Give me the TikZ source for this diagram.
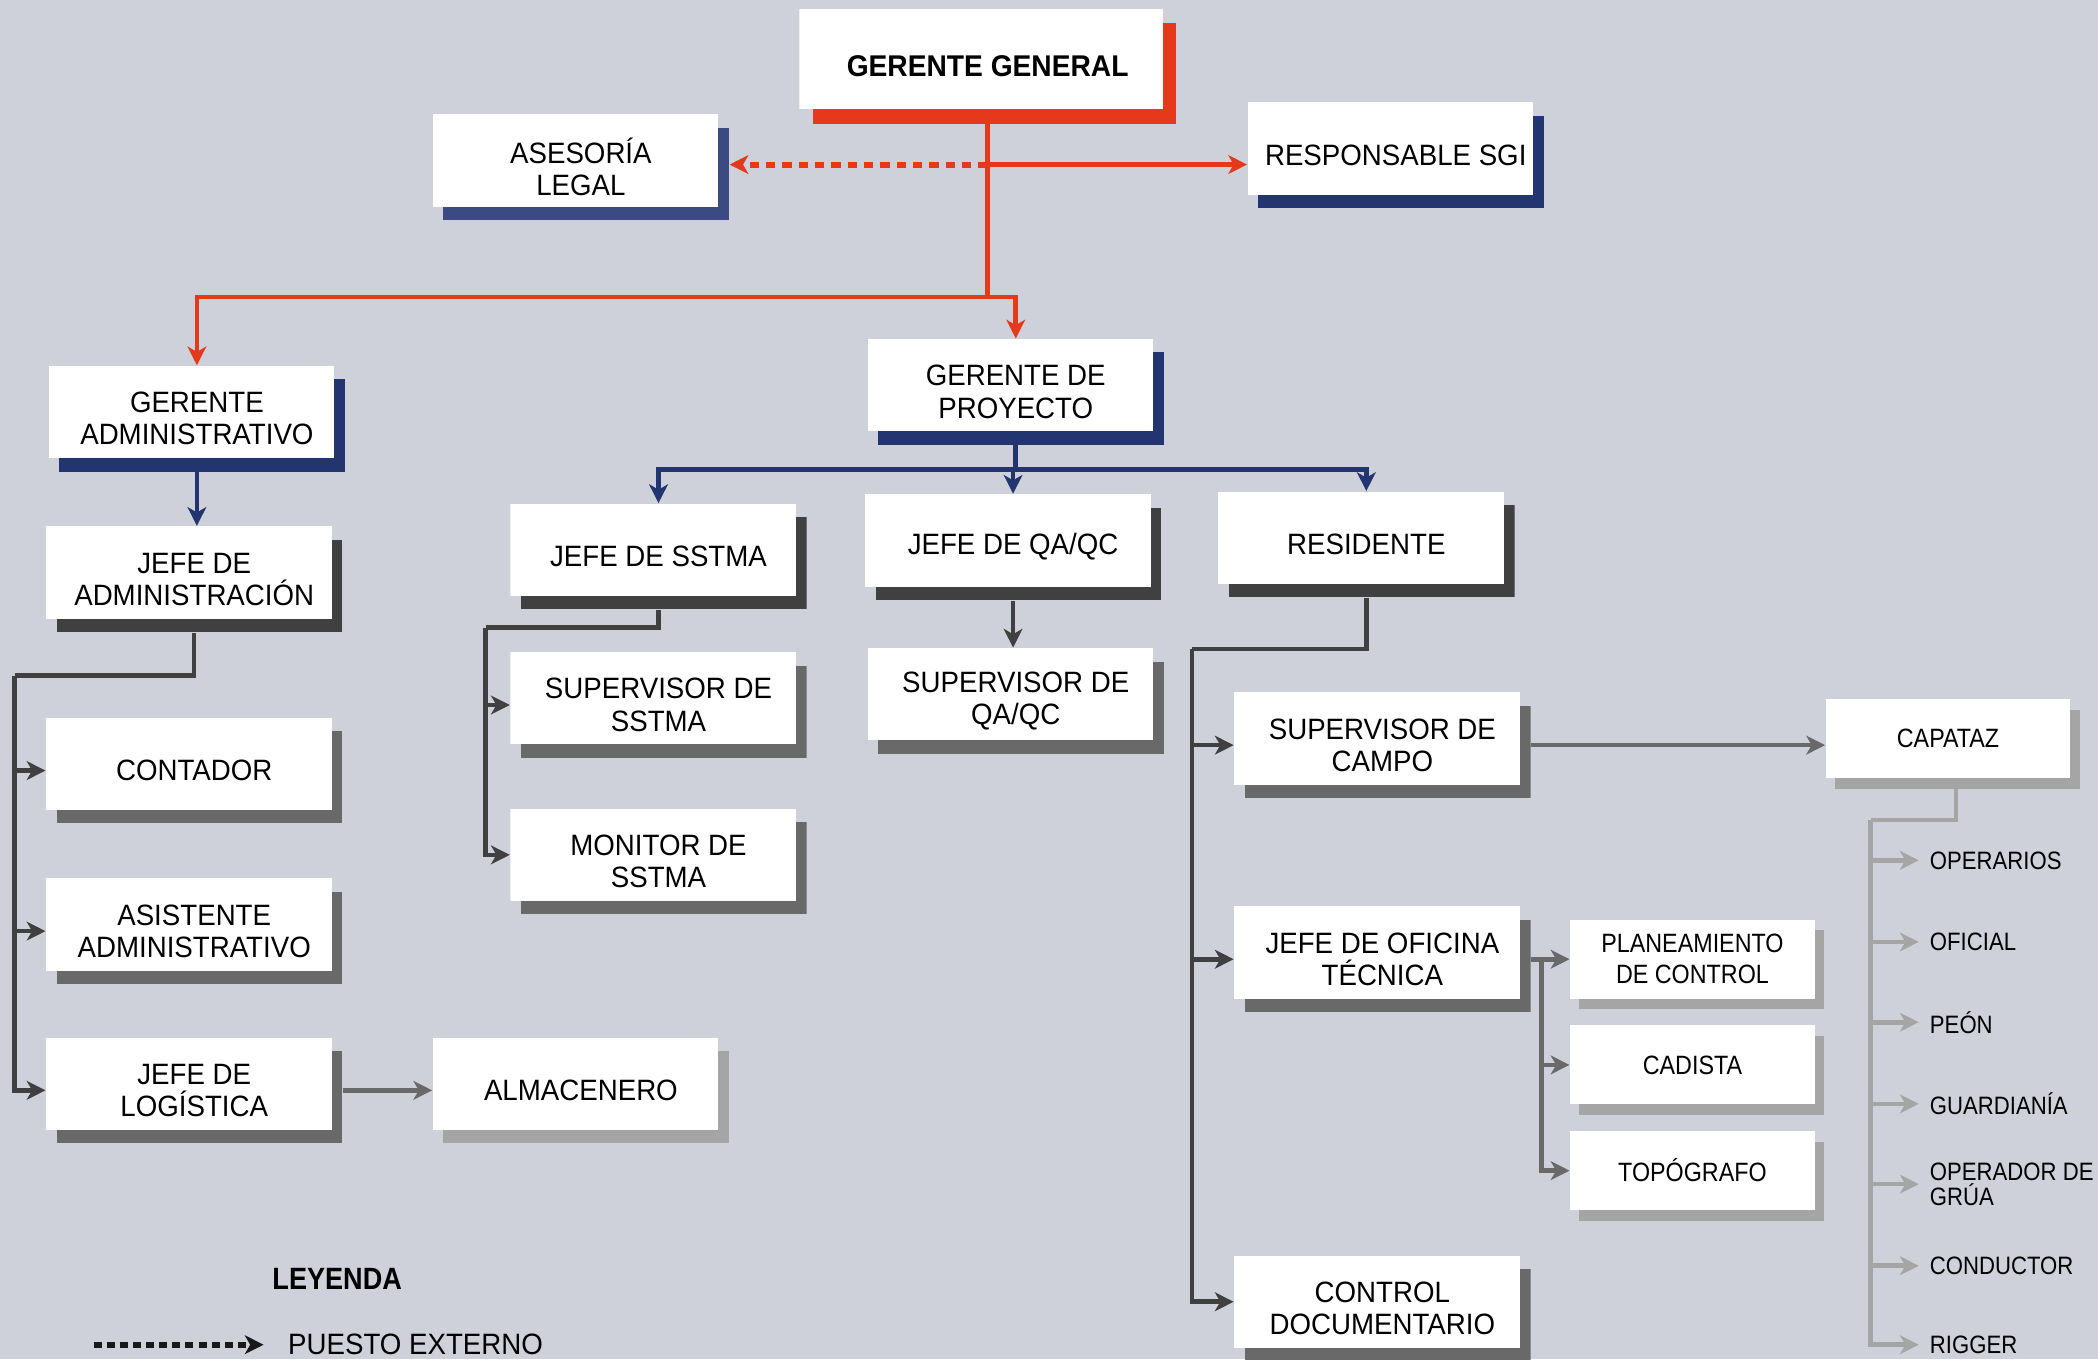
\documentclass[tikz,border=0pt]{standalone}
\usepackage{fontspec}
\setmainfont[FakeStretch=0.94]{Liberation Sans}
\newfontfamily\angosta[FakeStretch=0.88]{Liberation Sans}
\usetikzlibrary{arrows.meta,shadows,calc}

\definecolor{fondo}{RGB}{206,209,217}
\definecolor{rojo}{RGB}{228,57,27}
\definecolor{azul}{RGB}{35,53,112}
\definecolor{azulclaro}{RGB}{59,74,130}
\definecolor{gris1}{RGB}{64,64,64}
\definecolor{gris2}{RGB}{105,105,105}
\definecolor{gris3}{RGB}{165,165,165}
\definecolor{negro}{RGB}{25,25,25}

\tikzset{
	sombra x/.initial=4pt,
	sombra y/.initial=5pt,
	puesto/.style={minimum width=110.75pt, minimum height=39.5pt, inner sep=0pt,
		anchor=north west, align=center, font=\fontsize{11}{12.1}\selectfont,
		path picture={
			\fill[#1] ([xshift=\pgfkeysvalueof{/tikz/sombra x},yshift=-\pgfkeysvalueof{/tikz/sombra y}]path picture bounding box.north west)
				rectangle (path picture bounding box.south east);
			\fill[white] (path picture bounding box.north west)
				rectangle ([xshift=-\pgfkeysvalueof{/tikz/sombra x},yshift=\pgfkeysvalueof{/tikz/sombra y}]path picture bounding box.south east);
		}},
	jefe/.style={puesto=rojo, sombra x=5pt, sombra y=5.3pt, minimum width=140.75pt,
		minimum height=43pt, font=\bfseries\fontsize{11.2}{12}\selectfont},
	chico/.style={minimum width=91.5pt, minimum height=29.5pt, inner sep=0pt,
		anchor=north west, align=center, fill=white,
		font=\angosta\fontsize{9.9}{11.5}\selectfont,
		general shadow={fill=#1, shadow xshift=3.5pt, shadow yshift=-4pt}},
	item/.style={anchor=west, inner xsep=4pt, inner ysep=0pt, align=left,
		font=\angosta\fontsize{9.4}{9.5}\selectfont},
	linea/.style={line width=1.7pt},
	flecha/.style={-{Stealth[length=7pt,width=7pt,inset=2pt]}},
	externo/.style={line width=2.2pt, dash pattern=on 3.5pt off 2.6pt}
}

\begin{document}
\begin{tikzpicture}[x=0.5pt, y=-0.5pt]
	\fill[fondo] (0,0) rectangle (1568,1016);
	\useasboundingbox (0,0) rectangle (1568,1016);

	% puestos
	\node[jefe] (gg) at (597,6) {GERENTE GENERAL};
	\node[puesto=azulclaro] (ases) at (323,85) {ASESORÍA\\LEGAL};
	\node[puesto=azul] (sgi) at (932,76) {RESPONSABLE SGI};
	\node[puesto=azul] (gadm) at (36,273) {GERENTE\\ADMINISTRATIVO};
	\node[puesto=azul] (gproy) at (648,253) {GERENTE DE\\PROYECTO};
	\node[puesto=gris1] (jadm) at (34,393) {JEFE DE\\ADMINISTRACIÓN};
	\node[puesto=gris1] (jsstma) at (381,376) {JEFE DE SSTMA};
	\node[puesto=gris1] (jqa) at (646,369) {JEFE DE QA/QC};
	\node[puesto=gris1] (resid) at (910,367) {RESIDENTE};
	\node[puesto=gris2] (cont) at (34,536) {CONTADOR};
	\node[puesto=gris2] (asist) at (34,656) {ASISTENTE\\ADMINISTRATIVO};
	\node[puesto=gris2] (jlog) at (34,775) {JEFE DE\\LOGÍSTICA};
	\node[puesto=gris3] (almac) at (323,775) {ALMACENERO};
	\node[puesto=gris2] (supsstma) at (381,487) {SUPERVISOR DE\\SSTMA};
	\node[puesto=gris2] (monitor) at (381,604) {MONITOR DE\\SSTMA};
	\node[puesto=gris2] (supqa) at (648,484) {SUPERVISOR DE\\QA/QC};
	\node[puesto=gris2] (supcampo) at (922,517) {SUPERVISOR DE\\CAMPO};
	\node[puesto=gris2] (jofic) at (922,677) {JEFE DE OFICINA\\TÉCNICA};
	\node[puesto=gris2] (cdoc) at (922,938) {CONTROL\\DOCUMENTARIO};
	\node[chico=gris3] (planea) at (1173,687) {PLANEAMIENTO\\DE CONTROL};
	\node[chico=gris3] (cadista) at (1173,766) {CADISTA};
	\node[chico=gris3] (topog) at (1173,845) {TOPÓGRAFO};
	\node[chico=gris3] (capataz) at (1364,522) {CAPATAZ};

	\node[item] (operarios) at (1434,643) {OPERARIOS};
	\node[item] (oficial) at (1434,704) {OFICIAL};
	\node[item] (peon) at (1434,764) {PEÓN};
	\node[item] (guardiania) at (1434,825) {GUARDIANÍA};
	\node[item] (grua) at (1434,885) {OPERADOR DE\\GRÚA};
	\node[item] (conductor) at (1434,946) {CONDUCTOR};
	\node[item] (rigger) at (1434,1005) {RIGGER};

	% gerencia
	\coordinate (r0) at (gg.south |- 0,123);
	\coordinate (r1) at (gg.south |- 0,222);
	\draw[linea, rojo] (gg.south) -- (r1);
	\draw[linea, rojo, flecha] (r1) -| (gadm.north);
	\draw[linea, rojo, flecha] (r1) -| (gproy.north);
	\draw[linea, rojo, flecha] (r0) -- (r0 -| sgi.west);
	\draw[externo, rojo, flecha] (r0) -- (r0 -| ases.east);

	\draw[linea, azul, flecha] (gadm.south) -- (gadm.south |- jadm.north);
	\coordinate (a1) at (gproy.south |- 0,351);
	\draw[linea, azul] (gproy.south) -- (a1);
	\draw[linea, azul, flecha] (a1) -| (jsstma.north);
	\draw[linea, azul, flecha] (a1) -| (jqa.north);
	\draw[linea, azul, flecha] (a1) -| (resid.north);

	% administracion
	\coordinate (b1) at (11,505);
	\draw[linea, gris1] (jadm.south) |- (b1);
	\draw[linea, gris1, flecha] (b1) |- (jlog.west);
	\draw[linea, gris1, flecha] (b1 |- cont.west) -- (cont.west);
	\draw[linea, gris1, flecha] (b1 |- asist.west) -- (asist.west);
	\draw[linea, gris2, flecha] (jlog.east) -- (almac.west);

	% sstma y qa/qc
	\coordinate (b2) at (363,469);
	\draw[linea, gris1] (jsstma.south) |- (b2);
	\draw[linea, gris1, flecha] (b2) |- ([yshift=2.5pt]monitor.west);
	\draw[linea, gris1, flecha] (b2 |- supsstma.west) -- (supsstma.west);
	\draw[linea, gris1, flecha] (jqa.south) -- (supqa.north -| jqa.south);

	% residente
	\coordinate (b3) at (891,485);
	\draw[linea, gris1] (resid.south) |- (b3);
	\draw[linea, gris1, flecha] (b3) |- ([yshift=2.5pt]cdoc.west);
	\draw[linea, gris1, flecha] (b3 |- supcampo.west) -- (supcampo.west);
	\draw[linea, gris1, flecha] (b3 |- jofic.west) -- (jofic.west);

	\draw[linea, gris2, flecha] (supcampo.east) -- (supcampo.east -| capataz.west);
	\coordinate (b4) at (1152,716.5);
	\draw[linea, gris2, flecha] (jofic.east) -- (planea.west);
	\draw[linea, gris2, flecha] (b4) |- (topog.west);
	\draw[linea, gris2, flecha] (b4 |- cadista.west) -- (cadista.west);

	% capataz
	\coordinate (b5) at (1398,613);
	\draw[linea, gris3] ([xshift=3pt]capataz.south) |- (b5);
	\draw[linea, gris3, flecha] (b5) |- (rigger.west);
	\draw[linea, gris3, flecha] (b5 |- operarios.west) -- (operarios.west);
	\draw[linea, gris3, flecha] (b5 |- oficial.west) -- (oficial.west);
	\draw[linea, gris3, flecha] (b5 |- peon.west) -- (peon.west);
	\draw[linea, gris3, flecha] (b5 |- guardiania.west) -- (guardiania.west);
	\draw[linea, gris3, flecha] (b5 |- grua.west) -- (grua.west);
	\draw[linea, gris3, flecha] (b5 |- conductor.west) -- (conductor.west);

	% leyenda
	\node[font=\angosta\bfseries\fontsize{11.5}{12}\selectfont] (leyenda) at (252,956) {LEYENDA};
	\coordinate (ley) at (70,1005);
	\node[anchor=west, inner xsep=9pt, inner ysep=0pt, font=\fontsize{11}{12}\selectfont] (ext) at (197,1005) {PUESTO EXTERNO};
	\draw[externo, negro, flecha, dash pattern=on 3pt off 1.9pt] (ley) -- (ext.west);
\end{tikzpicture}
\end{document}
